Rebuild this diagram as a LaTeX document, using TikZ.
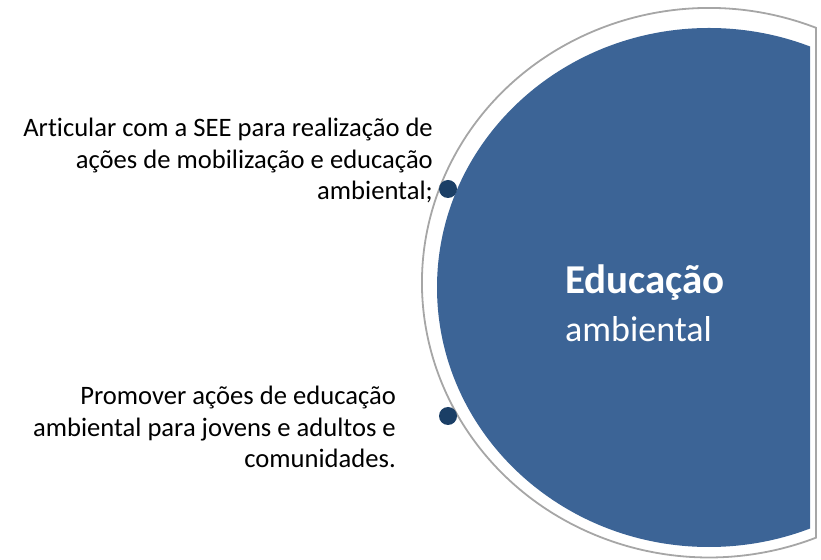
\documentclass[tikz,border=0pt]{standalone}
\usepackage{fontspec}
\setmainfont{Carlito}[Ligatures=NoCommon]
\definecolor{circblue}{RGB}{60,100,150}
\definecolor{dotblue}{RGB}{27,63,102}
\definecolor{ringgray}{RGB}{166,166,166}
\begin{document}
\begin{tikzpicture}[x=1pt,y=1pt,
  dotnode/.style={circle,fill=dotblue,inner sep=0pt,minimum size=18pt},
  sidetext/.style={align=right,inner sep=0pt,anchor=base east,font=\fontsize{26.6}{31.5}\selectfont},
  centertext/.style={align=left,inner sep=0pt,anchor=base west,text=white,font=\fontsize{36}{48}\selectfont}]
\useasboundingbox (0,0) rectangle (821,559);
\coordinate (gc) at (709,276.25);
\coordinate (bc) at (709,271.5);
% gray ring outline
\draw[ringgray,line width=1.8pt]
  ([shift={(68.1:287 and 274.75)}]gc) arc[start angle=68.1,end angle=291.9,x radius=287,y radius=274.75] -- cycle;
% blue disc, cut at the right
\begin{scope}
  \clip (0,0) rectangle (810,559);
  \fill[circblue] (bc) ellipse[x radius=272,y radius=259.5];
\end{scope}
\node[centertext] (title) at (565,217) {{\fontsize{41}{48}\selectfont\bfseries Educação}\\ambiental};
\node[dotnode] (d1) at (448,370) {};
\node[dotnode] (d2) at (448,143) {};
\node[sidetext] (t1) at (433,359) {Articular com a SEE para realização de\\ações de mobilização e educação\\ambiental;};
\node[sidetext] (t2) at (396,91) {Promover ações de educação\\ambiental para jovens e adultos e\\comunidades.};
\end{tikzpicture}
\end{document}
